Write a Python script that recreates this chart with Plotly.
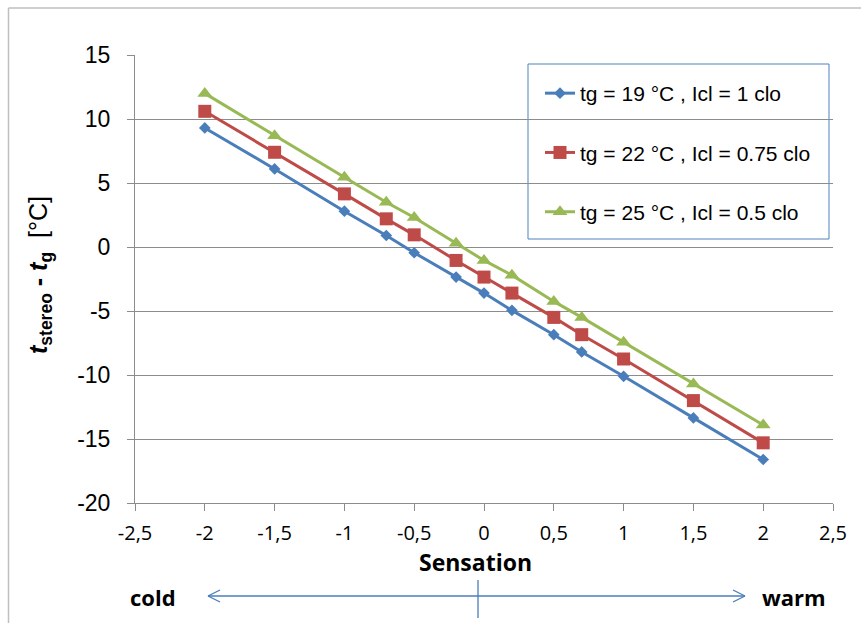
import plotly.graph_objects as go

# ---- data ----
sensation = [-2, -1.5, -1, -0.7, -0.5, -0.2, 0, 0.2, 0.5, 0.7, 1, 1.5, 2]
tg19 = [9.3, 6.1, 2.8, 0.9, -0.45, -2.35, -3.6, -4.95, -6.85, -8.2, -10.1, -13.35, -16.6]
tg22 = [10.6, 7.4, 4.15, 2.2, 0.95, -1.05, -2.35, -3.6, -5.5, -6.85, -8.75, -12.0, -15.3]
tg25 = [12.0, 8.7, 5.45, 3.5, 2.3, 0.3, -1.05, -2.2, -4.25, -5.5, -7.45, -10.7, -13.9]
names = ["tg = 19 °C , Icl = 1 clo", "tg = 22 °C , Icl = 0.75 clo", "tg = 25 °C , Icl = 0.5 clo"]
x_ticks = [-2.5, -2, -1.5, -1, -0.5, 0, 0.5, 1, 1.5, 2, 2.5]
x_ticktext = ["-2,5", "-2", "-1,5", "-1", "-0,5", "0", "0,5", "1", "1,5", "2", "2,5"]
y_ticks = [15, 10, 5, 0, -5, -10, -15, -20]
y_ticktext = ["15", "10", "5", "0", "-5", "-10", "-15", "-20"]

# ---- layout geometry (pixels) ----
W, H = 861, 623
L, R, T, B = 135, 28, 55, 120
PW, PH = W - L - R, H - T - B


def px(x):
    return (x - L) / PW


def py(y):
    return (H - B - y) / PH


colors = ["#4A7EBB", "#BE4B48", "#98B954"]
symbols = ["diamond", "square", "triangle-up"]
sizes = [9, 13, 13]

fig = go.Figure()
for i, (yv, nm) in enumerate(zip([tg19, tg22, tg25], names)):
    fig.add_trace(go.Scatter(
        x=sensation, y=yv, name=nm, mode="lines+markers",
        line=dict(color=colors[i], width=3),
        marker=dict(symbol=symbols[i], size=sizes[i], color=colors[i]),
        legendgroup=f"g{i}",
    ))

grid = "#8C8C8C"
fig.update_layout(
    width=W, height=H,
    margin=dict(l=L, r=R, t=T, b=B),
    paper_bgcolor="white", plot_bgcolor="white",
    font=dict(family="Liberation Sans, Arial, sans-serif", color="black"),
    showlegend=True,
    legend=dict(
        x=px(540), y=py(73), xanchor="left", yanchor="top",
        bgcolor="rgba(0,0,0,0)", borderwidth=0,
        font=dict(size=21, family="Liberation Sans, Arial, sans-serif"),
        traceorder="grouped", tracegroupgap=29,
        itemwidth=30,
    ),
    xaxis=dict(
        range=[-2.5, 2.5], tickvals=x_ticks, ticktext=x_ticktext,
        showgrid=False, zeroline=False,
        showline=True, linecolor=grid, linewidth=1,
        ticks="outside", ticklen=7, tickcolor=grid,
        tickfont=dict(size=20, family="Open Sans, sans-serif"),
        ticklabelstandoff=5,
    ),
    yaxis=dict(
        range=[-20, 15], tickvals=y_ticks, ticktext=y_ticktext,
        showgrid=True, gridcolor=grid, gridwidth=1, zeroline=False,
        showline=True, linecolor=grid, linewidth=1,
        ticks="outside", ticklen=7, tickcolor=grid,
        tickfont=dict(size=23),
        ticklabelstandoff=12,
    ),
)

shapes = []
# legend box
shapes.append(dict(type="rect", xref="paper", yref="paper",
                   x0=px(528), x1=px(829), y0=py(239), y1=py(64),
                   line=dict(color="#4F81BD", width=1), fillcolor="white", layer="below"))
# outer chart border (left and top)
shapes.append(dict(type="line", xref="paper", yref="paper",
                   x0=px(8.5), x1=px(8.5), y0=py(8), y1=py(623), line=dict(color="#BFBFBF", width=1.5)))
shapes.append(dict(type="line", xref="paper", yref="paper",
                   x0=px(8.5), x1=px(861), y0=py(8), y1=py(8), line=dict(color="#BFBFBF", width=1.5)))
# cold-warm arrow
ac = "#4A7EBB"
ay = 596
shapes.append(dict(type="line", xref="paper", yref="paper",
                   x0=px(208), x1=px(745), y0=py(ay), y1=py(ay), line=dict(color=ac, width=1.3)))
for (tipx, d) in [(208, 1), (745, -1)]:
    for dy in (-6, 6):
        shapes.append(dict(type="line", xref="paper", yref="paper",
                           x0=px(tipx), x1=px(tipx + d * 12), y0=py(ay), y1=py(ay + dy),
                           line=dict(color=ac, width=1.3)))
shapes.append(dict(type="line", xref="paper", yref="paper",
                   x0=px(478), x1=px(478), y0=py(580), y1=py(618), line=dict(color=ac, width=1.3)))
fig.update_layout(shapes=shapes)

ann = []
ann.append(dict(text="<b>Sensation</b>", x=px(475), y=py(562), xref="paper", yref="paper",
                showarrow=False, xanchor="center", yanchor="middle",
                font=dict(size=23, family="Open Sans, sans-serif")))
ann.append(dict(text="<b>cold</b>", x=px(153), y=py(597), xref="paper", yref="paper",
                showarrow=False, xanchor="center", yanchor="middle",
                font=dict(size=22, family="Open Sans, sans-serif")))
ann.append(dict(text="<b>warm</b>", x=px(794), y=py(597), xref="paper", yref="paper",
                showarrow=False, xanchor="center", yanchor="middle",
                font=dict(size=22, family="Open Sans, sans-serif")))
ann.append(dict(text="<b><i>t</i><sub>stereo</sub> - <i>t</i><sub>g</sub></b>  [°C]",
                x=px(40), y=py(275), xref="paper", yref="paper", textangle=-90,
                showarrow=False, xanchor="center", yanchor="middle",
                font=dict(size=25)))
fig.update_layout(annotations=ann)

fig.write_html("out.html")
